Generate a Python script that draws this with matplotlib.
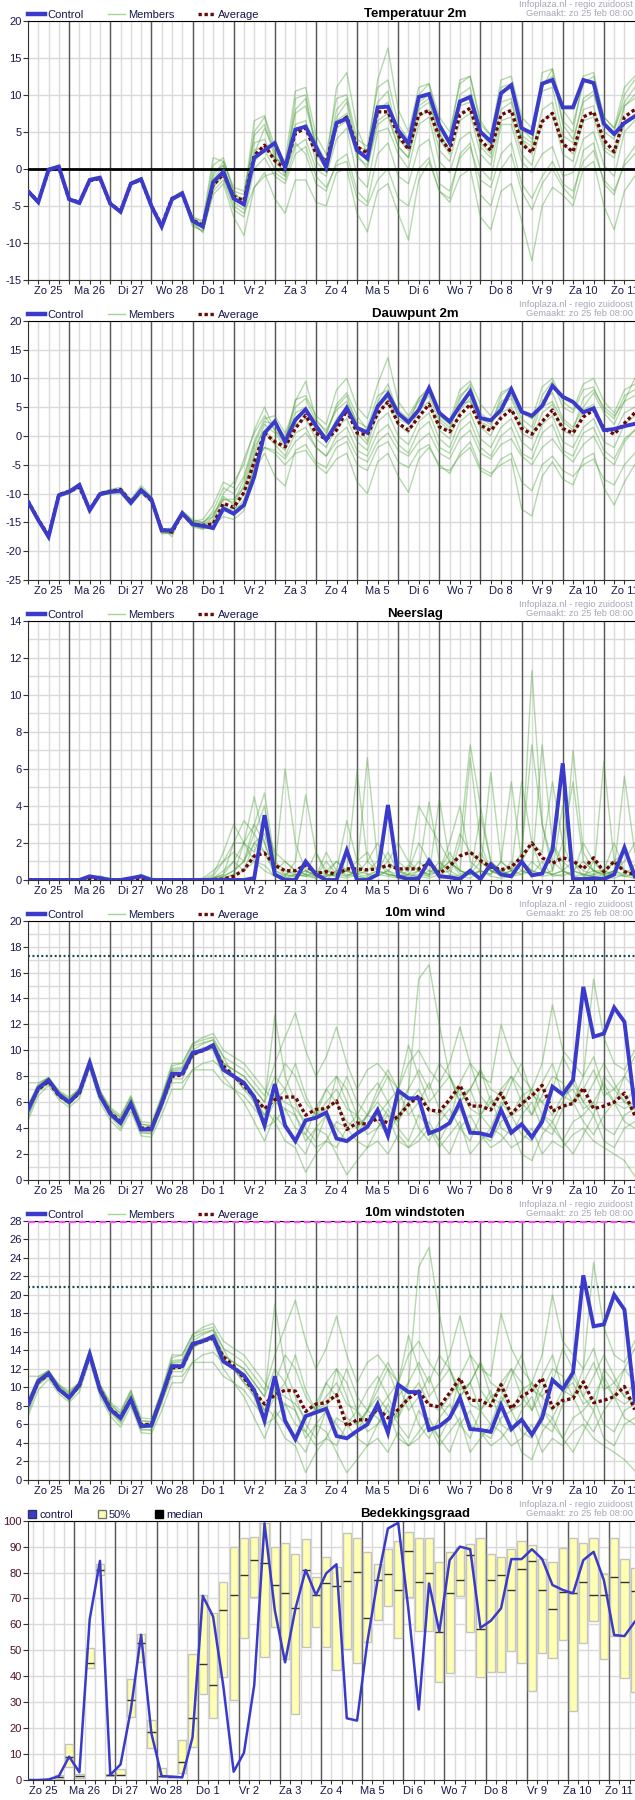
import numpy as np
import matplotlib
matplotlib.use('Agg')
import matplotlib.pyplot as plt
from matplotlib.lines import Line2D

plt.rcParams['font.family'] = ['Liberation Sans', 'DejaVu Sans']
plt.rcParams['axes.unicode_minus'] = False

#%% data (6-hourly steps, 60 per panel)
days = ['Zo 25', 'Ma 26', 'Di 27', 'Wo 28', 'Do 1', 'Vr 2', 'Za 3', 'Zo 4',
        'Ma 5', 'Di 6', 'Wo 7', 'Do 8', 'Vr 9', 'Za 10', 'Zo 11']
steps = np.arange(60)

temp_control = [-3.0,-4.5,-0.1,0.3,-4.1,-4.6,-1.5,-1.2,-4.7,-5.8, -2.0,-1.4,-5.0,-7.8,-4.1,-3.3,-7.0,-7.8,-1.8,-0.4,
                -4.0,-4.8,1.5,2.5,3.5,0.2,5.3,5.7,3.0,0.2, 6.2,6.8,2.5,1.4,8.3,8.4,5.2,3.4,9.7,10.1,
                5.9,3.5,9.1,9.7,5.0,3.7,10.2,11.3,5.5,4.8, 11.5,12.0,8.3,8.3,12.0,11.6,6.1,4.7,6.2,7.1]
temp_average = [-3.0,-4.4,-0.2,0.2,-4.1,-4.5,-1.6,-1.3,-4.7,-5.7, -2.0,-1.5,-5.0,-7.6,-4.0,-3.4,-6.9,-7.6,-2.2,-0.7,
                -3.7,-4.3,1.8,3.2,1.1,0.1,4.8,5.5,2.1,1.0, 6.0,7.0,3.0,2.1,7.7,7.7,4.6,2.6,7.3,7.9,
                4.3,2.5,7.3,8.2,3.9,2.5,7.3,7.9,3.4,2.2, 6.4,7.5,3.4,2.3,7.0,7.7,3.9,2.3,7.0,8.0]
temp_members = [
    [-2.8,-4.4,0.0,0.5,-4.0,-4.7,-1.3,-1.0,-4.5,-5.9,-1.8,-1.2,-5.4,-8.0,-3.8,-3.0,
     -6.5,-7.2,0.5,1.5,-3.0,-5.0,5.0,7.0,2.0,-1.0,9.5,10.0,3.0,0.5,7.0,9.0,2.0,0.0,6.0,7.0,3.0,1.5,8.5,9.5,4.0,2.0,10.0,11.0,5.0,3.0,9.0,9.5,4.0,3.0,13.0,13.5,6.0,4.0,9.0,10.0,6.0,5.0,10.0,12.0],
    [-3.1,-4.6,-0.3,0.2,-4.2,-4.5,-1.6,-1.4,-4.8,-5.6,-2.1,-1.5,-4.8,-7.5,-4.2,-3.5,
     -7.5,-8.5,-3.5,-2.0,-6.5,-9.0,-2.5,-1.0,-0.5,-1.5,3.0,4.0,0.0,-1.0,4.0,5.5,-1.0,-2.5,5.0,5.5,2.0,0.0,6.0,7.0,1.0,-0.5,4.0,5.0,0.0,-1.5,6.0,6.0,1.0,-0.5,2.0,3.0,-1.0,-0.5,4.0,5.0,0.5,-1.0,5.0,6.5],
    [-2.9,-4.3,-0.2,0.4,-4.1,-4.8,-1.4,-1.1,-4.6,-5.7,-1.9,-1.3,-5.1,-7.9,-3.9,-3.2,
     -6.8,-7.7,-2.0,0.0,-3.5,-4.0,6.5,7.2,3.0,1.0,10.5,11.0,4.5,2.0,9.5,10.0,4.0,3.0,11.0,12.0,6.0,4.0,10.0,11.5,7.0,5.0,11.5,12.5,6.5,4.5,12.0,12.5,7.0,5.5,11.0,13.5,8.0,6.0,11.5,12.5,7.0,5.5,11.0,12.5],
    [-3.0,-4.5,-0.1,0.2,-4.3,-4.6,-1.6,-1.3,-4.8,-5.9,-2.1,-1.4,-4.9,-7.7,-4.3,-3.4,
     -7.2,-8.0,-1.0,1.0,-2.5,-3.0,3.5,4.0,1.0,-0.5,3.5,2.0,-2.0,-3.0,1.0,2.0,-3.0,-4.5,2.0,3.5,-1.0,-2.0,3.0,4.0,-2.0,-3.0,1.5,3.0,-1.5,-2.5,2.0,3.5,-2.0,-4.0,-1.0,1.0,-2.0,-3.0,1.0,2.5,-1.5,-3.0,0.5,2.0],
    [-2.9,-4.4,0.1,0.4,-4.0,-4.4,-1.4,-1.2,-4.6,-5.7,-2.0,-1.5,-5.2,-7.9,-4.0,-3.3,
     -6.7,-7.5,-0.5,0.5,-4.5,-5.5,2.0,5.5,2.5,0.0,7.5,8.5,3.5,1.0,8.0,9.5,3.0,2.5,9.0,10.5,4.0,3.0,9.0,10.0,5.0,2.5,8.5,9.0,3.5,2.0,10.5,11.0,5.5,4.0,10.5,11.0,4.5,3.5,9.5,10.5,5.0,4.0,8.5,10.0],
    [-3.1,-4.6,-0.2,0.2,-4.2,-4.7,-1.5,-1.3,-4.7,-5.8,-2.1,-1.4,-5.0,-7.6,-4.1,-3.4,
     -7.8,-8.3,-3.0,-1.5,-5.5,-6.5,0.0,1.5,-1.0,-2.0,2.0,3.0,-1.0,-2.5,0.5,1.0,-4.0,-5.0,-1.5,0.0,-4.0,-5.0,0.0,1.5,-3.0,-4.0,2.0,3.5,-3.5,-5.0,0.0,2.0,-3.0,-5.5,-2.0,0.0,-2.5,-4.0,2.5,3.5,-2.0,-3.5,1.0,3.0],
    [-3.0,-4.5,0.0,0.3,-4.1,-4.6,-1.5,-1.2,-4.7,-5.8,-2.0,-1.4,-5.0,-7.8,-4.1,-3.3,
     -6.9,-7.8,-2.5,-1.0,-5.0,-6.0,-2.5,-0.5,-4.0,-6.0,-1.5,-1.5,-4.5,-5.0,-0.5,0.0,-6.0,-8.5,-3.0,-2.0,-6.0,-9.6,-1.5,1.0,-3.0,-4.5,-1.0,0.0,-6.5,-8.2,-3.0,-2.0,-7.0,-12.4,-5.0,-2.5,-3.5,-5.0,0.0,1.0,-5.0,-8.2,-3.0,-1.0],
    [-2.8,-4.3,0.0,0.5,-3.9,-4.5,-1.3,-1.0,-4.5,-5.6,-1.8,-1.2,-4.9,-7.7,-3.9,-3.1,
     -6.5,-7.0,1.5,1.0,-3.0,-3.5,4.5,6.0,1.5,0.5,8.0,9.5,2.5,0.5,11.0,13.0,5.5,2.0,12.0,16.3,8.0,5.0,11.0,11.5,5.5,4.0,12.0,12.5,6.0,4.5,11.0,11.5,4.5,3.5,11.5,12.5,6.5,5.0,12.5,13.0,7.0,5.5,9.0,11.0],
    [-3.2,-4.7,-0.3,0.1,-4.3,-4.8,-1.7,-1.4,-4.9,-6.0,-2.2,-1.6,-5.1,-8.0,-4.3,-3.5,
     -7.2,-8.6,-2.5,-0.5,-4.0,-5.0,1.0,2.5,0.0,-1.0,5.0,6.0,1.0,-0.5,5.5,6.5,1.5,0.5,6.5,7.5,3.0,1.5,7.0,8.0,2.5,1.0,6.5,7.5,2.0,0.5,6.5,7.0,2.0,0.5,6.5,7.5,2.0,1.0,6.5,7.0,2.5,1.5,6.0,7.0],
    [-3.0,-4.4,-0.1,0.3,-4.1,-4.6,-1.5,-1.2,-4.6,-5.8,-2.0,-1.4,-5.0,-7.7,-4.1,-3.3,
     -7.0,-7.9,-1.5,0.5,-4.0,-4.5,2.5,3.0,1.5,0.5,6.0,6.5,2.0,0.0,6.5,7.5,3.0,1.0,8.0,9.0,4.0,2.5,8.0,9.0,4.5,2.5,9.0,10.0,3.0,1.5,8.0,9.0,4.0,2.0,8.0,9.0,3.5,2.0,8.0,8.5,3.0,2.0,8.5,9.5],
]

dew_control = [-11.4,-14.6,-17.5,-10.3,-9.7,-8.5,-12.9,-10.1,-9.7,-9.5, -11.6,-9.4,-11.0,-16.4,-16.4,-13.4,-15.3,-15.6,-16.0,-12.6,
               -13.5,-12.0,-7.1,0.5,2.5,-1.0,2.8,4.6,1.8,-0.7, 2.2,4.9,1.4,0.6,5.1,7.3,3.9,2.4,4.5,8.3,
               4.0,2.5,5.2,7.7,3.1,2.7,4.5,8.1,4.2,3.5, 5.2,8.7,6.8,5.9,4.1,4.8,1.0,1.2,1.7,2.1]
dew_average = [-11.3,-14.5,-17.3,-10.2,-9.6,-8.9,-12.8,-10.0,-9.6,-9.3, -11.4,-9.6,-11.2,-16.2,-16.7,-13.5,-15.3,-15.5,-15.3,-11.7,
               -12.4,-9.8,-4.5,0.5,-1.0,-1.9,1.3,3.6,0.5,-0.6, 1.0,4.5,0.5,0.2,3.9,5.9,2.2,1.0,3.3,5.5,
               1.6,0.7,3.6,5.5,1.9,0.9,3.1,4.6,1.3,0.3, 2.5,4.5,1.3,0.5,3.3,4.5,1.3,0.3,2.2,4.0]
dew_members = [
    [-11.0,-14.3,-17.8,-10.0,-9.4,-8.2,-12.6,-9.8,-9.3,-8.9,-11.0,-8.6,-10.5,-15.8,-17.5,-13.0,
     -14.5,-15.0,-14.0,-10.0,-8.0,-5.0,1.0,5.0,1.0,-1.5,6.0,9.5,3.0,0.5,5.0,7.0,2.0,-1.0,6.0,9.0,4.0,2.0,5.0,7.0,2.5,1.0,6.5,9.0,3.0,2.0,5.5,6.5,2.0,0.5,6.0,7.5,3.0,1.5,5.0,7.5,4.0,2.0,6.0,10.0],
    [-11.6,-14.8,-17.3,-10.6,-10.0,-9.0,-13.2,-10.4,-10.0,-10.0,-12.0,-10.0,-11.5,-17.0,-16.8,-13.8,
     -15.5,-16.0,-15.5,-14.0,-14.5,-13.0,-5.0,-2.0,-2.5,-4.0,-1.0,0.5,-2.0,-3.5,-1.0,0.0,-3.5,-4.5,-1.0,0.5,-2.5,-3.5,-1.0,0.5,-3.0,-4.0,-0.5,1.0,-3.0,-4.0,-1.5,-0.5,-3.5,-5.0,-2.0,-0.5,-3.0,-4.5,-1.5,0.0,-3.5,-5.0,-1.0,1.0],
    [-11.2,-14.5,-17.6,-10.2,-9.6,-8.3,-12.7,-10.0,-9.5,-9.3,-11.3,-9.0,-10.8,-16.2,-16.0,-13.2,
     -15.0,-15.3,-13.0,-9.0,-10.0,-7.0,-1.0,3.0,3.5,0.5,5.0,6.5,2.5,1.0,4.5,6.0,2.5,1.5,7.0,8.0,4.5,3.0,6.0,7.5,3.5,2.0,7.0,8.5,4.0,2.5,6.0,7.0,3.0,1.5,7.0,9.5,5.0,4.0,8.0,8.5,4.5,3.0,7.0,8.0],
    [-11.5,-14.7,-17.4,-10.4,-9.8,-8.7,-13.0,-10.3,-9.9,-9.8,-11.8,-9.6,-11.2,-16.6,-16.7,-13.6,
     -15.8,-16.2,-15.0,-12.0,-13.5,-11.0,-6.0,-3.0,-7.0,-8.7,-2.5,-1.5,-4.5,-5.5,-2.0,-1.0,-5.0,-6.0,-2.0,-1.0,-4.5,-5.5,-2.5,-1.5,-5.5,-6.0,-3.5,-2.0,-6.0,-7.0,-4.0,-3.0,-8.0,-9.5,-5.0,-3.5,-6.0,-7.0,-5.0,-4.0,-7.5,-8.5,-5.0,-3.0],
    [-11.4,-14.6,-17.5,-10.3,-9.7,-8.5,-12.9,-10.1,-9.7,-9.5,-11.6,-9.4,-11.0,-16.4,-16.4,-13.4,
     -15.2,-15.8,-14.5,-11.0,-11.0,-9.0,-3.0,2.0,0.5,-2.0,3.0,4.5,1.0,-1.0,3.0,5.0,0.5,-1.5,4.0,6.0,2.0,0.5,4.5,6.0,1.0,-0.5,4.5,6.5,1.5,0.0,4.0,5.0,0.5,-0.5,4.0,5.5,1.0,0.0,4.5,5.5,1.5,0.5,4.0,5.0],
    [-11.4,-14.5,-17.7,-10.1,-9.5,-8.4,-12.8,-10.0,-9.6,-9.4,-11.5,-9.3,-10.9,-16.5,-16.5,-13.3,
     -14.8,-14.5,-12.0,-8.0,-9.0,-4.0,0.5,3.5,1.0,-1.0,6.3,7.0,3.5,2.0,8.0,10.0,5.0,3.0,9.0,13.6,6.0,3.5,6.5,8.0,4.0,2.5,8.0,9.5,5.5,3.5,7.5,8.5,4.0,3.0,8.5,10.0,6.0,4.5,9.0,10.0,6.0,4.0,8.0,9.0],
    [-11.5,-14.8,-17.6,-10.5,-9.9,-8.8,-13.1,-10.2,-9.8,-9.7,-11.7,-9.5,-11.1,-16.8,-17.0,-13.7,
     -15.6,-15.9,-15.0,-13.0,-12.5,-12.0,-4.5,-2.0,-3.0,-5.0,-3.0,-2.5,-5.0,-6.5,-4.0,-3.0,-8.0,-10.0,-4.5,-3.0,-7.0,-9.8,-4.0,-2.0,-5.0,-6.5,-3.0,-1.0,-5.5,-6.5,-5.0,-4.0,-12.7,-13.9,-7.0,-4.5,-7.5,-8.5,-4.0,-3.0,-9.0,-12.0,-8.0,-5.0],
    [-11.3,-14.6,-17.4,-10.2,-9.6,-8.6,-12.9,-10.1,-9.6,-9.5,-11.5,-9.3,-11.0,-16.3,-16.3,-13.5,
     -15.4,-15.7,-14.0,-10.5,-12.0,-8.5,-2.0,1.0,-1.0,-2.5,2.0,3.0,-0.5,-2.0,1.5,3.0,-1.0,-2.5,2.5,4.0,0.0,-1.5,2.5,4.0,-0.5,-2.0,2.5,4.0,-0.5,-2.0,1.5,3.0,-1.0,-2.5,2.0,3.5,-1.0,-2.0,1.5,3.0,-1.0,-2.0,2.0,3.5],
    [-11.2,-14.4,-17.2,-10.1,-9.5,-8.3,-12.7,-9.9,-9.4,-9.2,-11.2,-9.1,-10.7,-16.1,-16.2,-13.1,
     -14.8,-15.0,-13.5,-11.0,-11.5,-7.5,-1.5,2.5,2.0,0.0,4.0,5.0,1.5,0.0,5.5,7.5,3.5,1.0,5.5,6.5,3.0,2.0,6.5,8.5,3.0,1.5,5.5,6.0,2.5,1.5,7.0,8.5,4.5,3.0,5.0,6.0,2.5,1.0,6.5,8.0,5.0,3.5,6.0,7.0],
    [-11.6,-14.9,-17.9,-10.5,-9.9,-8.7,-13.1,-10.3,-9.9,-9.7,-11.9,-9.6,-11.2,-16.7,-16.6,-13.6,
     -15.5,-16.1,-15.8,-12.5,-13.0,-10.0,-3.5,0.5,-1.5,-3.5,0.5,1.5,-2.0,-3.5,0.0,1.5,-2.5,-3.5,0.5,2.0,-1.5,-3.0,1.0,2.5,-2.0,-3.0,1.0,2.5,-2.0,-3.5,0.0,1.5,-3.0,-4.0,0.5,2.0,-2.5,-3.5,0.5,1.5,-2.5,-4.0,-0.5,1.0],
]

rain_control = [0,0,0,0,0,0,0.2,0.1,0,0, 0.1,0.2,0,0,0,0,0,0,0,0,
                0,0,0.1,3.5,0.3,0.0,0.0,1.0,0.3,0, 0,1.6,0,0,0.3,4.05,0.2,0.05,0.1,1.05,
                0.2,0.15,0.05,0.5,0.05,0.85,0.3,0.2,1.0,0.25, 0.35,1.6,6.3,0.05,0.05,0.1,0.05,0.3,1.75,0.2]
rain_average = [0,0,0,0,0,0,0.05,0.05,0,0, 0.05,0.1,0,0,0,0,0,0,0.02,0.05,
                0.2,0.55,1.3,1.45,0.8,0.5,0.5,0.8,0.35,0.45, 0.3,0.6,0.6,0.55,0.6,0.8,0.6,0.6,0.6,0.9,
                0.35,0.75,1.3,1.5,1.05,0.7,0.55,0.7,1.25,2.0, 1.2,0.9,1.2,1.05,0.6,1.2,0.45,1.0,0.45,0.3]
rain_members = [
    [0,0,0,0,0,0,0.1,0.1,0,0,0.1,0.2,0,0,0,0,
     0,0,0.1,0.5,1.0,2.0,3.0,4.7,1.0,0.5,0.3,0.2,0.1,0.3,1.0,0.5,0.2,0.1,0.3,0.5,0.1,0.0,0.2,0.5,0.3,0.2,2.0,7.3,4.0,1.0,0.5,0.2,0.3,1.0,0.5,0.3,0.5,0.2,0.1,1.0,0.5,0.3,0.2,0.1],
    [0,0,0,0,0,0,0.2,0.1,0,0,0,0.3,0.1,0,0,0,
     0,0.05,0.3,1.5,3.0,2.0,4.5,2.0,0.5,6.0,2.0,0.5,0.2,0.0,0.5,3.2,1.0,0.3,0.5,1.5,0.5,0.2,0.3,0.2,0.5,1.0,0.3,0.5,1.5,0.5,0.2,0.3,1.0,0.5,0.3,2.0,0.5,1.0,0.2,0.3,0.5,2.0,0.5,0.3],
    [0,0,0,0,0,0,0.1,0.2,0.1,0,0.1,0.2,0,0,0,0,
     0,0,0,0.2,0.5,1.0,2.0,1.5,0.3,0.2,1.0,4.6,1.5,0.3,0.2,0.5,5.9,1.0,0.5,0.3,0.2,0.1,0.5,4.2,1.0,0.3,0.2,0.1,0.5,0.3,1.0,0.5,5.3,2.0,0.5,0.3,0.2,0.5,0.3,0.2,0.1,0.5,1.0,2.0],
    [0,0,0,0,0,0,0.2,0.2,0,0,0.1,0.3,0,0,0,0,
     0,0,0.1,0.3,2.0,3.2,2.5,4.0,0.8,0.3,0.5,0.3,0.2,1.0,0.3,0.2,0.5,6.6,1.0,0.5,0.3,0.8,0.5,0.2,4.4,1.0,0.5,6.6,2.0,0.5,0.3,1.0,0.5,0.3,1.0,0.2,0.3,7.0,1.5,0.5,0.3,0.5,0.2,0.3],
    [0,0,0,0,0,0,0.1,0.1,0,0,0.1,0.1,0,0,0,0,
     0,0,0,0.1,0.3,0.5,1.0,0.8,0.2,0.1,0.2,0.3,0.1,0.2,0.5,0.3,0.2,0.1,0.3,0.2,0.1,0.3,0.2,0.1,0.3,0.5,0.2,0.3,0.5,0.2,0.1,0.2,0.5,0.3,0.2,0.3,0.5,0.2,0.3,0.5,0.2,0.1,0.3,0.2],
    [0,0,0,0,0,0,0.1,0.1,0,0,0.1,0.2,0,0,0,0,
     0,0,0.2,1.0,2.0,2.0,1.5,3.0,1.5,1.0,0.5,1.0,0.3,0.5,1.0,0.5,0.3,1.0,2.0,1.0,0.5,0.3,1.0,0.5,0.5,1.0,0.5,0.3,3.5,1.0,0.5,0.3,1.0,11.3,3.0,0.5,2.0,5.3,1.0,0.5,0.3,1.0,0.5,0.3],
    [0,0,0,0,0,0,0.1,0.1,0,0,0.1,0.2,0.1,0,0,0,
     0,0,0.1,0.2,0.5,1.0,3.0,2.0,0.5,0.3,0.2,0.5,0.3,0.2,0.3,0.5,0.3,0.2,0.5,0.3,0.2,0.5,4.0,3.0,2.0,1.0,0.5,0.3,0.5,5.8,1.0,0.5,0.3,0.5,7.3,2.0,1.0,0.5,0.3,0.2,6.4,1.0,0.5,0.3],
    [0,0,0,0,0,0,0.2,0.1,0,0,0,0.2,0,0,0,0,
     0,0,0,0.1,0.3,2.0,1.0,0.5,0.2,0.1,0.3,0.2,0.5,0.3,0.2,0.1,0.3,0.5,1.0,0.3,0.2,0.3,0.5,0.3,0.5,2.0,4.0,1.0,0.5,0.3,1.0,5.3,1.0,0.5,0.3,0.5,4.0,1.0,0.5,0.3,0.2,0.5,5.6,1.5],
    [0,0,0,0,0,0,0.1,0.2,0,0,0.1,0.2,0,0,0,0,
     0,0.1,0.5,1.0,1.5,1.0,2.5,1.5,0.5,1.0,0.5,0.3,1.5,0.5,0.3,0.5,1.0,1.5,0.5,1.0,2.0,1.0,0.5,0.3,1.0,0.5,2.5,1.5,1.0,0.5,0.3,0.5,1.0,2.0,1.5,5.3,2.0,0.5,1.0,0.5,0.5,1.0,1.5,0.5],
    [0,0,0,0,0,0,0.1,0.1,0,0,0.1,0.1,0,0,0,0,
     0,0,0.1,0.3,1.0,0.5,2.0,2.5,0.5,0.2,0.3,0.5,0.2,1.5,0.5,0.2,0.5,0.3,0.2,0.5,1.0,0.5,2.0,1.0,0.5,1.5,0.5,0.3,1.0,0.5,0.3,0.5,1.5,7.3,3.0,1.0,0.5,0.3,2.0,1.0,0.3,0.5,0.3,0.8],
]

wind_control = [5.4,7.1,7.7,6.6,6.0,6.8,9.05,6.5,5.1,4.4, 5.9,3.9,3.9,5.9,8.2,8.2,9.8,10.0,10.4,8.5,
                8.0,7.5,6.4,4.2,7.4,4.2,3.0,4.6,4.8,5.2, 3.2,3.0,3.6,4.1,5.4,3.4,6.9,6.3,6.3,3.6,
                3.9,4.4,6.0,3.65,3.6,3.4,5.4,3.65,4.3,3.3, 4.5,7.2,6.6,7.7,14.9,11.05,11.3,13.3,12.2,5.7]
wind_average = [5.5,7.0,7.6,6.5,6.0,6.7,9.0,6.5,5.2,4.5, 5.8,4.0,4.0,5.9,8.0,8.1,9.7,10.0,10.3,8.8,
                8.0,7.3,6.4,5.5,6.2,6.4,6.4,5.0,5.45,5.5, 6.1,3.9,4.4,4.3,4.75,4.4,4.9,5.8,6.5,5.4,
                5.3,6.2,7.3,5.7,5.7,5.4,6.7,5.1,5.9,6.5, 7.3,5.3,5.7,5.9,7.1,5.5,5.7,6.0,6.7,5.0]
wind_members = [
    [5.0,6.8,7.5,6.4,5.8,6.6,8.8,6.3,4.9,4.0,5.6,3.6,3.6,5.5,7.8,7.8,
     9.5,10.0,10.5,9.0,8.5,8.0,7.0,6.0,12.7,8.0,6.0,4.0,3.0,5.0,8.0,7.0,5.0,4.0,5.0,6.0,4.5,7.0,15.5,16.6,12.0,8.0,6.0,7.0,5.0,4.0,6.0,5.0,6.5,7.0,5.0,4.5,6.0,7.5,6.0,5.0,8.0,7.0,6.0,5.5],
    [4.6,6.5,7.3,6.2,5.6,6.3,8.6,6.0,4.6,3.8,5.3,3.4,3.3,5.0,7.0,7.0,
     8.5,8.5,8.5,7.5,7.0,6.5,5.5,4.5,6.0,5.5,5.0,3.0,4.0,3.5,2.0,0.4,1.5,2.5,3.0,2.0,3.5,2.5,3.0,4.0,2.5,3.5,4.5,2.0,3.0,4.0,3.5,2.5,3.0,4.0,2.0,3.0,2.5,3.5,4.0,3.0,2.5,2.0,1.5,0.3],
    [5.8,7.4,7.9,6.8,6.2,7.0,9.3,6.8,5.5,4.8,6.3,4.3,4.2,6.3,8.8,9.0,
     10.5,10.8,11.0,9.5,9.0,8.5,7.5,6.5,9.0,11.0,12.9,10.0,8.0,9.5,11.8,9.0,7.0,8.5,9.0,8.0,7.0,9.0,10.0,8.5,7.5,9.0,11.8,9.0,8.0,7.5,12.0,9.5,8.0,7.0,9.0,13.5,10.0,9.0,8.0,15.5,11.0,9.0,8.5,10.0],
    [5.2,7.0,7.6,6.5,5.9,6.7,9.0,6.6,5.2,4.6,6.1,4.1,4.0,6.0,8.4,8.5,
     9.8,10.2,10.0,8.0,7.0,6.0,4.5,3.0,5.0,4.0,3.0,2.0,4.0,5.0,4.0,3.0,3.5,5.0,4.5,3.5,5.0,6.0,4.0,3.0,4.5,5.5,4.0,3.0,5.0,6.5,4.0,3.5,5.0,6.0,4.0,3.5,5.5,6.0,4.5,3.5,5.0,6.0,4.5,4.0],
    [5.6,7.2,7.8,6.7,6.1,6.9,9.2,6.7,5.3,4.5,6.0,4.0,4.0,6.2,8.5,8.6,
     10.0,10.5,10.8,9.5,8.0,7.0,6.0,5.0,7.0,9.0,8.0,6.0,5.0,7.0,8.0,6.0,4.0,5.0,7.0,8.5,7.0,5.0,6.0,7.5,5.5,4.5,7.5,9.0,6.5,5.5,7.0,8.0,6.0,5.0,7.5,9.0,6.5,6.0,8.0,9.5,7.0,6.0,8.0,9.5],
    [5.3,7.1,7.7,6.6,6.0,6.8,9.1,6.5,5.0,4.3,5.8,3.8,3.8,5.8,8.0,8.1,
     9.6,9.9,10.2,8.8,8.0,7.5,6.0,4.0,4.5,5.5,4.0,3.5,2.5,3.0,4.5,4.0,3.0,2.5,4.0,5.0,3.0,2.5,3.5,4.5,3.0,2.0,4.0,5.0,3.5,2.5,3.0,4.0,2.0,1.5,3.5,4.5,3.0,2.0,3.5,5.0,3.0,2.5,4.0,4.5],
    [5.5,7.3,7.9,6.8,6.3,7.1,9.4,6.9,5.6,5.0,6.5,4.5,4.4,6.5,9.0,9.0,
     10.5,11.0,11.3,10.0,9.5,9.0,8.0,7.0,6.0,7.0,5.0,3.5,5.5,7.0,6.0,8.0,6.0,5.0,6.5,8.0,6.0,7.0,8.5,7.0,9.0,8.0,6.0,7.0,8.5,6.0,5.5,7.5,9.0,6.5,6.0,7.0,9.5,8.0,6.0,7.5,9.0,7.5,6.0,7.0],
    [4.8,6.9,7.5,6.5,5.9,6.6,8.9,6.4,5.0,4.2,5.7,3.7,3.6,5.6,7.5,7.5,
     8.5,9.0,9.2,8.5,8.0,7.0,6.5,5.5,4.5,3.0,2.5,0.6,2.0,3.0,2.5,4.0,5.0,3.5,4.0,5.5,4.0,3.0,5.0,4.0,3.0,4.5,5.5,4.0,3.5,3.0,4.5,5.0,3.5,3.0,5.0,4.0,3.0,4.5,5.0,6.0,4.0,3.5,5.0,5.5],
    [7.5,7.5,7.9,6.9,6.4,7.0,9.2,6.9,5.4,4.8,6.4,4.3,4.2,6.4,8.6,8.7,
     10.3,10.6,10.8,9.0,8.5,8.0,7.0,6.0,8.0,7.0,9.0,6.5,5.0,6.0,7.0,5.5,5.0,6.5,7.5,6.0,7.0,10.4,8.0,6.0,7.0,8.0,6.5,7.0,8.5,7.0,6.5,8.0,7.0,5.0,6.5,8.0,7.5,6.0,7.0,8.5,6.5,7.0,8.0,7.0],
    [5.4,7.0,7.6,6.5,5.9,6.7,9.0,6.4,5.1,4.4,5.9,3.9,3.8,5.9,8.1,8.2,
     9.8,10.0,10.3,8.6,8.0,7.3,6.5,5.0,6.5,6.0,5.5,4.5,5.0,5.5,6.0,4.5,4.0,5.0,6.0,5.0,4.5,6.0,7.0,5.5,5.0,6.0,7.0,5.5,5.0,6.0,6.5,5.0,5.5,7.0,6.0,5.0,6.5,7.0,5.5,6.0,7.5,6.0,5.5,6.0],
]
wind_limits = [17.25]

gust_control = [8.1,10.7,11.5,9.8,8.9,10.3,13.6,9.7,7.6,6.7, 8.7,5.8,5.9,9.0,12.3,12.3,14.7,15.0,15.5,12.8,
                12.1,11.3,9.7,6.4,11.2,6.4,4.4,6.9,7.3,7.7, 4.75,4.5,5.3,6.0,8.2,5.1,10.3,9.5,9.5,5.4,
                5.8,6.7,8.9,5.5,5.4,5.2,8.1,5.5,6.5,4.9, 6.7,10.8,9.8,11.6,22.1,16.6,16.8,20.0,18.4,8.5]
gust_average = [8.1,10.6,11.4,9.8,8.9,10.2,13.5,9.8,7.7,6.8, 8.7,6.0,6.0,9.0,12.1,12.2,14.6,15.0,15.3,13.3,
                12.3,11.0,9.5,8.2,9.2,9.7,9.6,7.4,8.2,8.35, 9.2,5.8,6.5,6.5,7.7,6.7,7.6,8.8,9.6,8.1,
                7.9,9.4,11.0,8.6,8.6,8.0,10.3,7.7,9.0,9.7, 11.0,7.8,8.6,8.8,10.6,8.35,8.6,9.0,10.1,7.6]
gust_members = [
    [7.5,10.3,11.2,9.6,8.6,10.0,13.3,9.4,7.3,6.1,8.4,5.4,5.4,8.3,11.7,11.7,
     14.2,15.0,15.7,13.5,12.7,12.0,10.5,9.0,19.0,12.0,9.0,6.0,4.5,7.5,12.0,10.5,7.5,6.0,7.5,9.0,6.7,10.5,23.0,25.1,18.0,12.0,9.0,10.5,7.5,6.0,9.0,7.5,9.7,10.5,7.5,6.7,9.0,11.2,9.0,7.5,12.0,10.5,9.0,8.2],
    [6.9,9.7,10.9,9.3,8.4,9.5,12.9,9.0,6.9,5.7,8.0,5.1,5.0,7.5,10.5,10.5,
     12.7,12.7,12.7,11.2,10.5,9.7,8.2,6.7,9.0,8.2,7.5,4.5,6.0,5.2,3.0,0.8,2.2,3.7,4.5,3.0,5.2,3.7,4.5,6.0,3.7,5.2,6.7,3.0,4.5,6.0,5.2,3.7,4.5,6.0,3.0,4.5,3.7,5.2,6.0,4.5,3.7,3.0,2.2,1.0],
    [8.7,11.1,11.8,10.2,9.3,10.5,14.0,10.2,8.2,7.2,9.4,6.4,6.3,9.4,13.2,13.5,
     15.7,16.2,16.5,14.2,13.5,12.7,11.2,9.7,13.5,16.5,19.4,15.0,12.0,14.2,17.7,13.5,10.5,12.7,13.5,12.0,10.5,13.5,15.0,12.7,11.2,13.5,17.7,13.5,12.0,11.2,18.0,14.2,12.0,10.5,13.5,20.0,15.0,13.5,12.0,23.5,16.5,13.5,12.7,15.0],
    [7.8,10.5,11.4,9.7,8.8,10.0,13.5,9.9,7.8,6.9,9.1,6.1,6.0,9.0,12.6,12.7,
     14.7,15.3,15.0,12.0,10.5,9.0,6.7,4.5,7.5,6.0,4.5,3.0,6.0,7.5,6.0,4.5,5.2,7.5,6.7,5.2,7.5,9.0,6.0,4.5,6.7,8.2,6.0,4.5,7.5,9.7,6.0,5.2,7.5,9.0,6.0,5.2,8.2,9.0,6.7,5.2,7.5,9.0,6.7,6.0],
    [8.4,10.8,11.7,10.0,9.1,10.3,13.8,10.0,7.9,6.7,9.0,6.0,6.0,9.3,12.7,12.9,
     15.0,15.7,16.2,14.2,12.0,10.5,9.0,7.5,10.5,13.5,12.0,9.0,7.5,10.5,12.0,9.0,6.0,7.5,10.5,12.7,10.5,7.5,9.0,11.2,8.2,6.7,11.2,13.5,9.7,8.2,10.5,12.0,9.0,7.5,11.2,13.5,9.7,9.0,12.0,14.2,10.5,9.0,12.0,14.2],
    [7.9,10.6,11.5,9.9,9.0,10.2,13.6,9.7,7.5,6.4,8.7,5.7,5.7,8.7,12.0,12.1,
     14.4,14.8,15.3,13.2,12.0,11.2,9.0,6.0,6.7,8.2,6.0,5.2,3.7,4.5,6.7,6.0,4.5,3.7,6.0,7.5,4.5,3.7,5.2,6.7,4.5,3.0,6.0,7.5,5.2,3.7,4.5,6.0,3.0,2.2,5.2,6.7,4.5,3.0,5.2,7.5,4.5,3.7,6.0,6.7],
    [8.2,10.9,11.8,10.2,9.4,10.6,14.1,10.3,8.4,7.5,9.7,6.7,6.6,9.7,13.5,13.5,
     15.7,16.5,16.9,15.0,14.2,13.5,12.0,10.5,9.0,10.5,7.5,5.2,8.2,10.5,9.0,12.0,9.0,7.5,9.7,12.0,9.0,10.5,12.7,10.5,13.5,12.0,9.0,10.5,12.7,9.0,8.2,11.2,13.5,9.7,9.0,10.5,14.2,12.0,9.0,11.2,13.5,11.2,9.0,10.5],
    [7.2,10.3,11.2,9.7,8.8,9.9,13.3,9.6,7.5,6.3,8.5,5.5,5.4,8.4,11.2,11.2,
     12.7,13.5,13.8,12.7,12.0,10.5,9.7,8.2,6.7,4.5,3.7,0.8,3.0,4.5,3.7,6.0,7.5,5.2,6.0,8.2,6.0,4.5,7.5,6.0,4.5,6.7,8.2,6.0,5.2,4.5,6.7,7.5,5.2,4.5,7.5,6.0,4.5,6.7,7.5,9.0,6.0,5.2,7.5,8.2],
    [11.2,11.2,11.8,10.3,9.6,10.5,13.8,10.3,8.1,7.2,9.6,6.4,6.3,9.6,12.9,13.0,
     15.4,15.9,16.2,13.5,12.7,12.0,10.5,9.0,12.0,10.5,13.5,9.7,7.5,9.0,10.5,8.2,7.5,9.7,11.2,9.0,10.5,15.6,12.0,9.0,10.5,12.0,9.7,10.5,12.7,10.5,9.7,12.0,10.5,7.5,9.7,12.0,11.2,9.0,10.5,12.7,9.7,10.5,12.0,10.5],
    [8.1,10.5,11.4,9.7,8.8,10.1,13.5,9.6,7.6,6.6,8.8,5.8,5.7,8.8,12.1,12.3,
     14.7,15.0,15.4,12.9,12.0,10.9,9.7,7.5,9.7,9.0,8.2,6.7,7.5,8.2,9.0,6.7,6.0,7.5,9.0,7.5,6.7,9.0,10.5,8.2,7.5,9.0,10.5,8.2,7.5,9.0,9.7,7.5,8.2,10.5,9.0,7.5,9.7,10.5,8.2,9.0,11.2,9.0,8.2,9.0],
]
gust_limits = [20.85]
gust_max_line = [27.9]

# cloud cover: control plus the middle 50% of the members and their median
cloud_control = [0,0,0.2,1.5,9,3,62,84.5,2,6, 27,56,18,1.5,1.3,1,16.5,71,63,36,
                 3.2,10.5,36.6,99,65.5,45.4,66,81,71.3,79.7, 83.2,23.8,22.9,53.3,77.1,97,99.2,65.5,27.2,75.8,
                 57.2,84.8,90,89,58.7,61.4,66.2,85.2,85.2,89, 85.2,75.2,73.3,72,84.8,88,77.1,55.9,55.5,61]
cloud_q25 = [None,None,None,0.5,5.1,0.9,43.1,78.9,1.5,1.8, 24.2,45.4,12.2,1.3,1.0,2.8,12.9,33.0,23.8,39.6,
             30.8,54.6,70.7,47.3,59.1,46.5,25.4,51.2,58.9,51.4, 42.4,50.5,45.0,53.1,61.7,67.1,54.8,70.4,57.5,57.5,
             37.7,41.1,71.1,57.2,39.6,41.8,41.8,49.9,45.0,34.4, 48.8,46.9,54.0,26.7,52.7,61.4,46.5,55.5,39.2,34.1]
cloud_q75 = [None,None,None,1.8,13.8,2.2,50.8,83.3,2.3,4.1, 38.8,56.2,23.1,4.5,1.5,15.4,48.5,71.3,64.5,76.2,
             90.0,93.2,93.8,99.0,90.0,91.3,87.0,92.8,78.2,86.1, 82.3,95.1,93.2,88.0,83.3,88.9,92.0,95.8,93.2,93.2,
             84.0,88.0,90.0,90.9,93.2,87.0,86.1,88.9,92.0,90.6, 85.2,84.2,89.3,93.2,91.5,93.2,79.4,93.2,85.1,81.9]
cloud_median = [None,None,None,1.2,8.7,1.7,45.0,80.9,2.0,2.0, 31.0,53.0,18.5,1.5,1.2,6.8,23.8,44.6,36.6,65.5,
                71.5,78.9,84.8,83.8,75.3,72.3,66.2,81.0,71.3,76.1, 75.0,76.6,80.2,62.3,77.1,79.6,73.3,88.3,76.3,80.0,
                57.0,72.3,77.0,86.8,58.4,77.1,79.1,73.3,81.4,84.3, 73.3,66.0,72.5,72.0,76.2,71.3,71.3,78.3,76.2,73.0]

#%% style
W, H = 635, 1800
BLUE = '#3a3acb'
GREEN = '#3f9c2a'
AVG = '#6a0707'
TXT = '#16164a'
GRID = '#dadada'
DAYLINE = '#5a5a5a'

fig = plt.figure(figsize=(W / 100, H / 100), dpi=100)


def make_axes(k, title):
    top = 20.7 + 300 * k
    ax = fig.add_axes([28 / W, 1 - (top + 259.3) / H, 617 / W, 259.3 / H])
    fig.text(415 / W, 1 - (300 * k + 13.5) / H, title, ha='center', va='center',
             fontsize=9.5, fontweight='bold', color='black')
    fig.text(633 / W, 1 - (300 * k + 4.5) / H, 'Infoplaza.nl - regio zuidoost',
             ha='right', va='center', fontsize=6.7, color='#a6a6b8')
    fig.text(633 / W, 1 - (300 * k + 13.5) / H, 'Gemaakt: zo 25 feb 08:00',
             ha='right', va='center', fontsize=6.7, color='#a6a6b8')
    return ax


def style_axes(ax, ylim, yticks, ygrid, shift=0.0, label_shift=2.0, ycolor=TXT):
    ax.set_xlim(0, 60)
    ax.set_ylim(*ylim)
    for y in ygrid:
        ax.axhline(y, color=GRID, lw=1, zorder=0)
    for x in np.arange(shift, 60, 1):
        ax.axvline(x, color=GRID, lw=1, zorder=0)
    for x in np.arange(shift + 4, 60, 4):
        ax.axvline(x, color=DAYLINE, lw=1, zorder=1)
    ax.set_yticks(yticks)
    ax.set_xticks(np.arange(len(days)) * 4 + label_shift)
    ax.set_xticklabels(days)
    ax.set_xticks(np.arange(shift, 60, 1), minor=True)
    ax.xaxis.remove_overlapping_locs = False
    ax.tick_params(axis='x', which='major', length=0, pad=4.5, labelsize=8, labelcolor=TXT)
    ax.tick_params(axis='x', which='minor', length=3, width=0.8, color='#333333')
    ax.tick_params(axis='y', length=3.5, width=0.8, pad=1, labelsize=8, labelcolor=ycolor, color='#333333')
    ax.spines['right'].set_visible(False)
    ax.spines['top'].set_color('black')
    for s in ('left', 'bottom'):
        ax.spines[s].set_color('#333333')


def series_legend(ax):
    handles = [Line2D([], [], color=BLUE, lw=3.2),
               Line2D([], [], color='#a4d496', lw=1),
               Line2D([], [], color=AVG, lw=2.4, ls=(0, (1, 0.8)))]
    ax.legend(handles, ['Control', 'Members', 'Average'], ncol=3, loc='lower left',
              bbox_to_anchor=(0, 1.004), frameon=False, fontsize=8, labelcolor=TXT,
              handlelength=1.53, handletextpad=0.25, columnspacing=2.15,
              borderpad=0, borderaxespad=0)


def ensemble_panel(k, title, control, average, members, ylim, yticks, ygrid):
    ax = make_axes(k, title)
    style_axes(ax, ylim, yticks, ygrid)
    for m in members:
        ax.plot(steps, m, color=GREEN, lw=1, alpha=0.38, zorder=2)
    ax.plot(steps, average, color=AVG, lw=2.4, ls=(0, (1, 0.8)), zorder=4)
    ax.plot(steps, control, color=BLUE, lw=2.8, zorder=5, solid_joinstyle='miter')
    series_legend(ax)
    return ax


for name, arr in [('temp', temp_members), ('dew', dew_members), ('rain', rain_members),
                  ('wind', wind_members), ('gust', gust_members)]:
    for j, m in enumerate(arr):
        assert len(m) == 60, (name, j, len(m))

#%% panels
ax1 = ensemble_panel(0, 'Temperatuur 2m', temp_control, temp_average, temp_members,
                     (-15, 20), range(-15, 21, 5), range(-15, 21, 5))
ax1.axhline(0, color='black', lw=2, zorder=3)

ensemble_panel(1, 'Dauwpunt 2m', dew_control, dew_average, dew_members,
               (-25, 20), range(-25, 21, 5), range(-25, 21, 5))

ensemble_panel(2, 'Neerslag', rain_control, rain_average, rain_members,
               (0, 14), range(0, 15, 2), range(0, 15, 1))

ax4 = ensemble_panel(3, '10m wind', wind_control, wind_average, wind_members,
                     (0, 20), range(0, 21, 2), range(0, 21, 1))
for y in wind_limits:
    ax4.axhline(y, color='#1d4d4d', lw=1.6, ls=(0, (0.9, 1.1)), zorder=3)

ax5 = ensemble_panel(4, '10m windstoten', gust_control, gust_average, gust_members,
                     (0, 28), range(0, 29, 2), range(0, 29, 2))
for y in gust_limits:
    ax5.axhline(y, color='#1d4d4d', lw=1.6, ls=(0, (0.9, 1.1)), zorder=3)
for y in gust_max_line:
    ax5.axhline(y, color='#ff40ff', lw=1.6, ls=(0, (3, 1.6)), zorder=3)

# cloud cover panel
ax6 = make_axes(5, 'Bedekkingsgraad')
style_axes(ax6, (0, 100), range(0, 101, 10), range(0, 101, 10),
           shift=0.5, label_shift=1.45, ycolor='#4a1030')
q25 = np.array(cloud_q25, dtype=float)
q75 = np.array(cloud_q75, dtype=float)
med = np.array(cloud_median, dtype=float)
ok = ~np.isnan(q25)
ax6.bar(steps[ok], q75[ok] - q25[ok], bottom=q25[ok], width=0.8,
        color='#ffffb2', edgecolor='#c4c4c4', lw=1, zorder=2)
ax6.hlines(med[ok], steps[ok] - 0.4, steps[ok] + 0.4, color='#333333', lw=1, zorder=3)
ax6.plot(steps, cloud_control, color=BLUE, lw=1.8, zorder=5)
cloud_handles = [
    Line2D([], [], marker='s', ls='none', markersize=5.5, markerfacecolor=BLUE, markeredgecolor='#333366'),
    Line2D([], [], marker='s', ls='none', markersize=5.5, markerfacecolor='#ffffb2', markeredgecolor='#777777'),
    Line2D([], [], marker='s', ls='none', markersize=5.5, markerfacecolor='black', markeredgecolor='black'),
]
ax6.legend(cloud_handles, ['control', '50%', 'median'], ncol=3, loc='lower left',
           bbox_to_anchor=(0, 1.004), frameon=False, fontsize=8, labelcolor=TXT,
           handlelength=0.72, handletextpad=0.3, columnspacing=2.2,
           borderpad=0, borderaxespad=0)

fig.savefig('out.png', dpi=100)
